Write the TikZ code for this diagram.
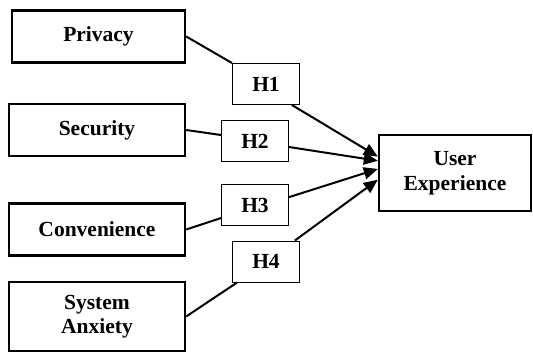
\documentclass[tikz,border=0pt]{standalone}
\usepackage{fontspec}
\setmainfont{Liberation Serif}
\usetikzlibrary{arrows.meta}

\begin{document}
\begin{tikzpicture}[x=1pt,y=-1pt,>={Triangle[length=14pt,width=12pt]},line width=2pt,
        factor/.style={draw,line width=2.4pt,minimum width=176pt,minimum height=52pt,
                       inner sep=0pt,align=center,font=\fontsize{21.5}{24.5}\selectfont\bfseries},
        hyp/.style={draw,line width=1pt,minimum width=67pt,minimum height=41pt,
                    inner sep=0pt,font=\fontsize{21.5}{24.5}\selectfont\bfseries}]
        \useasboundingbox (0,0) rectangle (533,353);

        	\node[factor]  (priv)  at (98.5,36.5)  [minimum width=173pt]  {Privacy};
  			\node[factor]  (secu)  at (97,130)     {Security};
            \node[factor]  (conv)  at (97,229.5)   {Convenience};
            \node[factor]  (anx)   at (97,316.5)   [minimum height=69pt]  {System\\Anxiety};

            \node[hyp]  (h1)  at (266,84)    {H1};
            \node[hyp]  (h2)  at (255,141)   {H2};
            \node[hyp]  (h3)  at (255,205)   {H3};
            \node[hyp]  (h4)  at (266,261.5) {H4};

            \node[factor]  (ux)  at (455,173)  [minimum width=152pt,minimum height=76pt]  {User\\Experience};

  			\path[]
                     (priv.east) edge (h1.north west)
                     (secu.east) edge (h2.170)
                     (conv.east) edge (h3.201)
                     (anx.east)  edge (h4.216)
                     ;
            \path[->]
                     (h1.-39) edge (ux.168)
                     (h2.-10) edge (ux.171)
                     (h3.13)  edge (ux.177)
                     (h4.36)  edge (ux.185)
                     ;
\end{tikzpicture}
\end{document}
